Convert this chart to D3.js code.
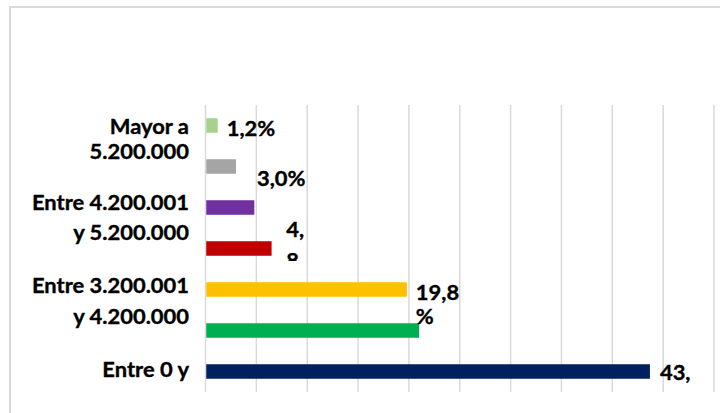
<!DOCTYPE html>
<html>
<head>
<meta charset="utf-8">
<script src="https://cdn.jsdelivr.net/npm/d3@7"></script>
<style>
html,body{margin:0;padding:0;background:#fff;}
svg{display:block;}
text{font-family:Lato,"Open Sans",sans-serif;font-weight:700;fill:#000;stroke:#000;stroke-width:0.35px;}
</style>
</head>
<body>
<svg id="chart" width="720" height="413"></svg>
<script>
// ---- data ----
const categories = ["c1","c2","c3","c4","c5","c6","c7"];
const values = [1.2, 3.0, 4.8, 6.5, 19.8, 21.0, 43.7];
const colors = ["#a9d18e","#a5a5a5","#7030a0","#c00000","#ffc000","#00b050","#002060"];
const tickLabels = [
  {cat:"c1", lines:["Mayor a","5.200.000"]},
  {cat:"c3", lines:["Entre 4.200.001","y 5.200.000"]},
  {cat:"c5", lines:["Entre 3.200.001","y 4.200.000"]},
  {cat:"c7", lines:["Entre 0 y"]}
];
const valueLabels = [
  {cat:"c1", lines:["1,2%"]},
  {cat:"c2", lines:["3,0%"]},
  {cat:"c3", lines:["4,","8"]},
  {cat:"c5", lines:["19,8","%"]},
  {cat:"c7", lines:["43,"]}
];
const xTicks = [0,5,10,15,20,25,30,35,40,45,50];

// ---- layout ----
const svg = d3.select("#chart");
const plot = {left:205.5, right:714, top:105, bottom:392};
const x = d3.scaleLinear().domain([0,50]).range([plot.left, plot.right]);
const y = d3.scaleBand().domain(categories).range([plot.top, plot.bottom])
  .paddingInner(0.646).paddingOuter(0.323);

// frame
svg.append("path").attr("d","M10,420 L10,7 L725,7")
  .attr("fill","none").attr("stroke","#d9d9d9").attr("stroke-width",2);

// gridlines
svg.append("g").selectAll("line").data(xTicks).join("line")
  .attr("x1",d=>x(d)).attr("x2",d=>x(d))
  .attr("y1",plot.top).attr("y2",plot.bottom)
  .attr("stroke","#d9d9d9").attr("stroke-width",1.5);

// bars
svg.append("g").selectAll("rect").data(categories).join("rect")
  .attr("x",x(0)+0.75)
  .attr("y",d=>y(d))
  .attr("width",(d,i)=>x(values[i])-x(0)-0.75)
  .attr("height",y.bandwidth())
  .attr("fill",(d,i)=>colors[i]);

// category labels
const fs = 20.5;
const sx = 1.07;
const catG = svg.append("g");
const firstOffset = {c1:8, c3:2, c5:3, c7:5.5};
const catLineH = {c1:25, c3:30, c5:31.5, c7:0};
tickLabels.forEach(t=>{
  const cy = y(t.cat)+y.bandwidth()/2;
  t.lines.forEach((ln,j)=>{
    catG.append("text")
      .attr("transform",`translate(189,${cy+firstOffset[t.cat]+j*catLineH[t.cat]}) scale(${sx},1)`)
      .attr("text-anchor","end")
      .attr("font-size",fs)
      .text(ln);
  });
});

// value labels (manually nudged as in the original)
const nudge = {c1:[9,10,24], c2:[21,19,24], c3:[32,29.5,31], c5:[9,10,24], c7:[10,8,24]};
const defs = svg.append("defs");
defs.append("clipPath").attr("id","clip48")
  .append("rect").attr("x",0).attr("y",0).attr("width",720).attr("height",261);
const valG = svg.append("g");
valueLabels.forEach(v=>{
  const i = categories.indexOf(v.cat);
  const bx = x(values[i]);
  const cy = y(v.cat)+y.bandwidth()/2;
  const [dx,dy,lh] = nudge[v.cat];
  const g = valG.append("g");
  if (v.cat==="c3") g.attr("clip-path","url(#clip48)");
  v.lines.forEach((ln,j)=>{
    g.append("text")
      .attr("transform",`translate(${bx+dx},${cy+dy+j*lh}) scale(${sx},1)`)
      .attr("font-size",fs)
      .text(ln);
  });
});
</script>
</body>
</html>
